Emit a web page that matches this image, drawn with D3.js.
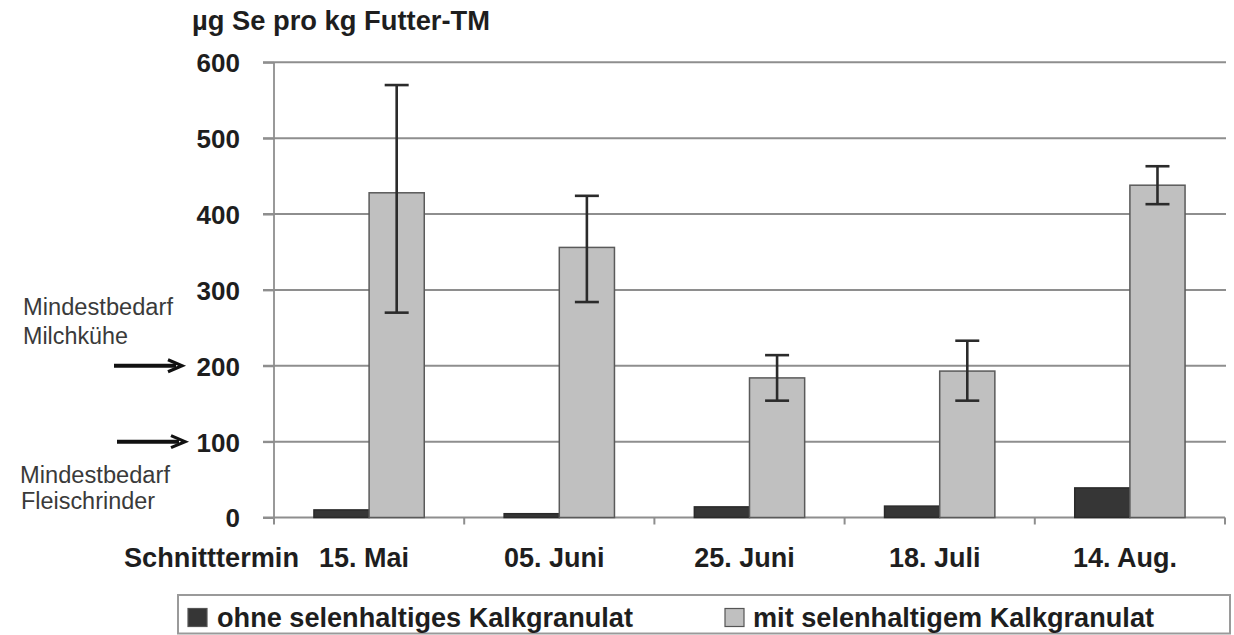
<!DOCTYPE html>
<html>
<head>
<meta charset="utf-8">
<script src="https://cdn.jsdelivr.net/npm/d3@7"></script>
<style>
  html, body { margin: 0; padding: 0; background: #fff; }
  svg { display: block; font-family: "Liberation Sans", Arial, sans-serif; }
</style>
</head>
<body>
<svg id="chart" width="1234" height="635"></svg>
<script>
// Selengehalt im Futter je Schnitttermin (µg Se pro kg Futter-TM)
const categories = ["15. Mai", "05. Juni", "25. Juni", "18. Juli", "14. Aug."];
const seriesNames = ["ohne selenhaltiges Kalkgranulat", "mit selenhaltigem Kalkgranulat"];
const ohne = [10, 5, 14, 15, 39];
const mit = [428, 356, 184, 193, 438];
const mitErrLow = [270, 284, 154, 154, 413];
const mitErrHigh = [570, 424, 214, 233, 463];
const yTicks = [0, 100, 200, 300, 400, 500, 600];
// Mindestbedarf: Milchkühe 200, Fleischrinder 100
const requirements = [200, 100];

const svg = d3.select("#chart");
const plotLeft = 274, plotRight = 1225, plotTop = 62.3, plotBottom = 517.5;

const x0 = d3.scaleBand().domain(categories).range([plotLeft, plotRight])
  .paddingInner(0.42).paddingOuter(0.21);
const x1 = d3.scaleBand().domain(seriesNames).range([0, x0.bandwidth()]);
const y = d3.scaleLinear().domain([0, 600]).range([plotBottom, plotTop]);

const colors = { [seriesNames[0]]: "#363636", [seriesNames[1]]: "#c0c0c0" };
const gridColor = "#8e8e8e";
const textColor = "#1e1e1e";

// horizontal gridlines
svg.append("g").selectAll("line").data(yTicks.filter(d => d > 0)).join("line")
  .attr("x1", plotLeft - 11).attr("x2", plotRight + 1)
  .attr("y1", d => y(d)).attr("y2", d => y(d))
  .attr("stroke", gridColor).attr("stroke-width", 2);

// y axis
const yAxis = svg.append("g").attr("transform", `translate(${plotLeft},0)`)
  .call(d3.axisLeft(y).tickValues(yTicks).tickSize(11).tickPadding(23));
yAxis.select(".domain").attr("stroke", gridColor).attr("stroke-width", 1.8)
  .attr("d", `M0,${plotTop}V${plotBottom}`);
yAxis.selectAll(".tick line").attr("stroke", gridColor).attr("stroke-width", 2);
yAxis.selectAll(".tick text").attr("fill", textColor)
  .style("font-size", "26px").style("font-weight", "bold")
  .attr("dy", "0.36em");

// x axis with ticks on category boundaries
const xAxisG = svg.append("g");
xAxisG.append("line").attr("x1", plotLeft - 11).attr("x2", plotRight)
  .attr("y1", plotBottom).attr("y2", plotBottom)
  .attr("stroke", gridColor).attr("stroke-width", 2);
const boundaries = categories.map(c => x0(c) - x0.step() * x0.paddingInner() / 2).concat([plotRight]);
xAxisG.selectAll("line.tk").data(boundaries).join("line").attr("class", "tk")
  .attr("x1", d => d).attr("x2", d => d)
  .attr("y1", plotBottom).attr("y2", plotBottom + 7)
  .attr("stroke", gridColor).attr("stroke-width", 2);

// bars
const groups = svg.append("g").selectAll("g").data(categories).join("g")
  .attr("transform", c => `translate(${x0(c)},0)`);
const barData = i => [
  { s: seriesNames[0], v: ohne[i] },
  { s: seriesNames[1], v: mit[i] }
];
groups.each(function (c, i) {
  d3.select(this).selectAll("rect").data(barData(i)).join("rect")
    .attr("x", d => x1(d.s)).attr("width", x1.bandwidth())
    .attr("y", d => y(d.v)).attr("height", d => y(0) - y(d.v))
    .attr("fill", d => colors[d.s])
    .attr("stroke", d => d.s === seriesNames[0] ? "#2a2a2a" : "#5a5a5a")
    .attr("stroke-width", 1.5);
});

// error bars on the "mit" series
const capHalf = 12;
const eb = svg.append("g").selectAll("g").data(categories).join("g")
  .attr("transform", c => `translate(${x0(c) + x1(seriesNames[1]) + x1.bandwidth() / 2},0)`);
eb.append("line").attr("x1", 0).attr("x2", 0)
  .attr("y1", (c, i) => y(mitErrHigh[i])).attr("y2", (c, i) => y(mitErrLow[i]));
eb.append("line").attr("x1", -capHalf).attr("x2", capHalf)
  .attr("y1", (c, i) => y(mitErrHigh[i])).attr("y2", (c, i) => y(mitErrHigh[i]));
eb.append("line").attr("x1", -capHalf).attr("x2", capHalf)
  .attr("y1", (c, i) => y(mitErrLow[i])).attr("y2", (c, i) => y(mitErrLow[i]));
eb.selectAll("line").attr("stroke", "#2b2b2b").attr("stroke-width", 2.6);

// category labels
const labelBaseline = 567;
svg.append("g").selectAll("text").data(categories).join("text")
  .attr("x", c => x0(c) + x0.bandwidth() / 2 - 5)
  .attr("y", labelBaseline)
  .attr("text-anchor", "middle")
  .attr("fill", textColor)
  .style("font-size", "27px").style("font-weight", "bold")
  .text(c => c);
svg.append("text").attr("x", 124).attr("y", labelBaseline)
  .attr("fill", textColor)
  .style("font-size", "27px").style("font-weight", "bold")
  .attr("textLength", 175).attr("lengthAdjust", "spacingAndGlyphs")
  .text("Schnitttermin");

// axis title
svg.append("text").attr("x", 192).attr("y", 30)
  .attr("fill", textColor)
  .style("font-size", "27px").style("font-weight", "bold")
  .attr("textLength", 298).attr("lengthAdjust", "spacingAndGlyphs")
  .text("µg Se pro kg Futter-TM");

// requirement annotations with arrows
const noteColor = "#3a3a3a";
const notes = [
  { t: "Mindestbedarf", x: 23, y: 315, w: 150 },
  { t: "Milchkühe", x: 23, y: 344, w: 105 },
  { t: "Mindestbedarf", x: 20, y: 483, w: 150 },
  { t: "Fleischrinder", x: 21, y: 509, w: 134 }
];
svg.append("g").selectAll("text").data(notes).join("text")
  .attr("x", d => d.x).attr("y", d => d.y)
  .attr("fill", noteColor)
  .style("font-size", "23.5px")
  .attr("textLength", d => d.w).attr("lengthAdjust", "spacingAndGlyphs")
  .text(d => d.t);

const arrowX = [[114, 182], [117, 185]];
const arrows = svg.append("g").selectAll("g").data(requirements).join("g")
  .attr("transform", d => `translate(0,${y(d)})`);
arrows.append("line")
  .attr("x1", (d, i) => arrowX[i][0]).attr("x2", (d, i) => arrowX[i][1] - 6)
  .attr("y1", 0).attr("y2", 0)
  .attr("stroke", "#111").attr("stroke-width", 4);
arrows.append("path")
  .attr("d", (d, i) => {
    const e = arrowX[i][1];
    return `M${e - 14},-6 L${e},0 L${e - 14},6`;
  })
  .attr("fill", "none").attr("stroke", "#111").attr("stroke-width", 3.2)
  .attr("stroke-linejoin", "miter");

// legend
const legend = svg.append("g");
legend.append("rect").attr("x", 178).attr("y", 595).attr("width", 1052).attr("height", 38.5)
  .attr("fill", "#fff").attr("stroke", "#9a9a9a").attr("stroke-width", 2);
const legendItems = [
  { s: seriesNames[0], bx: 188, tx: 217, w: 416 },
  { s: seriesNames[1], bx: 725, tx: 753, w: 401 }
];
const li = legend.selectAll("g").data(legendItems).join("g");
li.append("rect").attr("x", d => d.bx).attr("y", 608.5).attr("width", 19).attr("height", 18)
  .attr("fill", d => colors[d.s]).attr("stroke", "#555").attr("stroke-width", 1.2);
li.append("text").attr("x", d => d.tx).attr("y", 626.5)
  .attr("fill", textColor)
  .style("font-size", "27px").style("font-weight", "bold")
  .attr("textLength", d => d.w).attr("lengthAdjust", "spacingAndGlyphs")
  .text(d => d.s);
</script>
</body>
</html>
